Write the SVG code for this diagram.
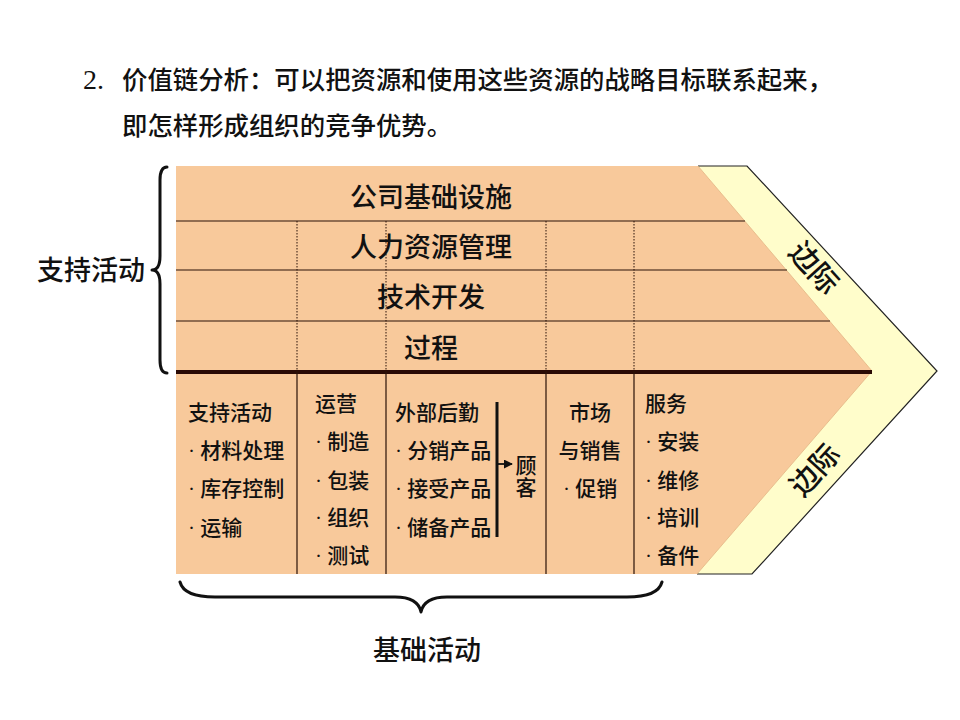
<svg xmlns="http://www.w3.org/2000/svg" width="960" height="720" viewBox="0 0 960 720">
<defs>
<style>
.t{font-family:'Liberation Serif','Noto Sans CJK SC',serif;fill:#111;font-weight:500;}
.title{font-size:25.4px;}
.num{font-size:28px;}
.big{font-size:27px;}
.sm{font-size:21px;}
.mg{font-size:29px;}
.row{stroke:#2a1208;stroke-width:1.2;fill:none;}
.dot{stroke:#2a1208;stroke-width:1;stroke-dasharray:1.5 1.5;fill:none;}
.col{stroke:#2a1208;stroke-width:1.2;fill:none;}
.brace{stroke:#111;stroke-width:3;fill:none;stroke-linecap:round;stroke-linejoin:round;}
</style>
<marker id="ah" viewBox="0 0 10 10" refX="9" refY="5" markerWidth="5" markerHeight="5" orient="auto">
<path d="M0,0 L10,5 L0,10 z" fill="#111"/>
</marker>
</defs>
<rect width="960" height="720" fill="#ffffff"/>

<g id="title">
<text class="t title" y="89"><tspan x="83" class="num">2.</tspan><tspan x="122">价值链分析：可以把资源和使用这些资源的战略目标联系起来，</tspan></text>
<text class="t title" x="122" y="135">即怎样形成组织的竞争优势。</text>
</g>

<g id="chevron">
<polygon points="698,166 747,166 937,371 752,574 697,574 872,371" fill="#FFFDCB"/>
<polygon points="176,166 698,166 872,371 697,574 176,574" fill="#F8C99B"/>
<polyline points="698,166 747,166 937,371 752,574 697,574" fill="none" stroke="#222" stroke-width="1.2"/>
<polyline points="698,166 872,371 697,574" fill="none" stroke="#e3b57f" stroke-width="0.8"/>
</g>

<g id="grid">
<line class="row" x1="176" y1="221" x2="745" y2="221"/>
<line class="row" x1="176" y1="270" x2="787" y2="270"/>
<line class="row" x1="176" y1="321" x2="830" y2="321"/>
<line x1="176" y1="372" x2="872" y2="372" stroke="#2a0a05" stroke-width="4"/>
<line class="dot" x1="297" y1="221" x2="297" y2="372"/>
<line class="dot" x1="386" y1="221" x2="386" y2="372"/>
<line class="dot" x1="546" y1="221" x2="546" y2="372"/>
<line class="dot" x1="634" y1="221" x2="634" y2="372"/>
<line class="col" x1="297" y1="372" x2="297" y2="574"/>
<line class="col" x1="386" y1="372" x2="386" y2="574"/>
<line class="col" x1="546" y1="372" x2="546" y2="574"/>
<line class="col" x1="634" y1="372" x2="634" y2="574"/>
</g>

<g id="support">
<text class="t big" x="431" y="207" text-anchor="middle">公司基础设施</text>
<text class="t big" x="431" y="257" text-anchor="middle">人力资源管理</text>
<text class="t big" x="431" y="307" text-anchor="middle">技术开发</text>
<text class="t big" x="431" y="358" text-anchor="middle">过程</text>
</g>

<g id="inbound">
<text class="t sm" x="188" y="420">支持活动</text>
<text class="t sm" x="188" y="458">· 材料处理</text>
<text class="t sm" x="188" y="496">· 库存控制</text>
<text class="t sm" x="188" y="535">· 运输</text>
</g>

<g id="operations">
<text class="t sm" x="315" y="411">运营</text>
<text class="t sm" x="315" y="449">· 制造</text>
<text class="t sm" x="315" y="488">· 包装</text>
<text class="t sm" x="315" y="525">· 组织</text>
<text class="t sm" x="315" y="563">· 测试</text>
</g>

<g id="outbound">
<text class="t sm" x="395" y="420">外部后勤</text>
<text class="t sm" x="395" y="458">· 分销产品</text>
<text class="t sm" x="395" y="496">· 接受产品</text>
<text class="t sm" x="395" y="535">· 储备产品</text>
<line x1="497" y1="402" x2="497" y2="537" stroke="#111" stroke-width="3"/>
</g>

<g id="customer">
<text class="t sm" x="526" y="473" text-anchor="middle">顾</text>
<text class="t sm" x="526" y="495" text-anchor="middle">客</text>
</g>

<g id="marketing">
<text class="t sm" x="590" y="420" text-anchor="middle">市场</text>
<text class="t sm" x="590" y="458" text-anchor="middle">与销售</text>
<text class="t sm" x="563" y="496">· 促销</text>
</g>

<g id="service">
<text class="t sm" x="645" y="411">服务</text>
<text class="t sm" x="645" y="449">· 安装</text>
<text class="t sm" x="645" y="488">· 维修</text>
<text class="t sm" x="645" y="525">· 培训</text>
<text class="t sm" x="645" y="563">· 备件</text>
</g>

<g id="margin">
<text class="t mg" text-anchor="middle" transform="translate(814,268) rotate(48)" y="10">边际</text>
<text class="t mg" text-anchor="middle" transform="translate(815,470) rotate(-48)" y="10">边际</text>
</g>

<g id="labels">
<text class="t big" x="37" y="280">支持活动</text>
<text class="t big" x="427" y="660" text-anchor="middle">基础活动</text>
</g>

<g id="connectors">
<line x1="498" y1="464" x2="512" y2="464" stroke="#111" stroke-width="1.8" marker-end="url(#ah)"/>
<path class="brace" d="M167,167 Q160,167 160,180 L160,256 Q160,270 152,270 Q160,270 160,284 L160,360 Q160,373 167,373"/>
<path class="brace" d="M180,582 Q184,597 215,597 L395,597 Q418,597 421,612 Q424,597 447,597 L627,597 Q658,597 662,582"/>
</g>
</svg>
